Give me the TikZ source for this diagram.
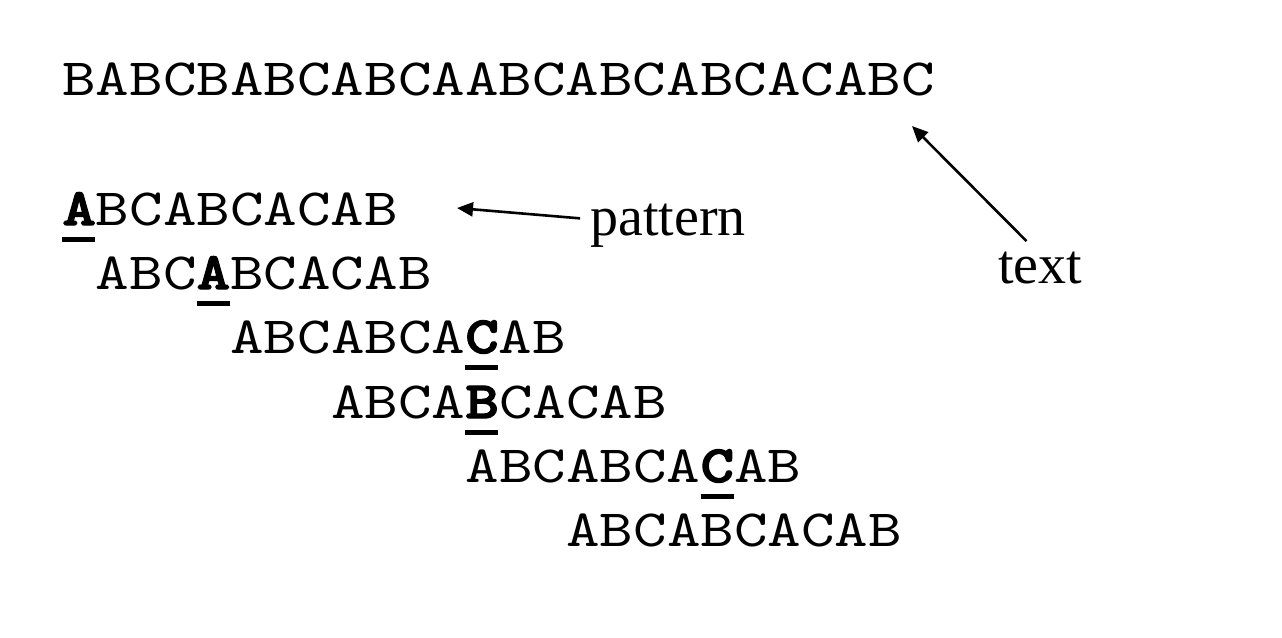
\documentclass[tikz,border=0pt]{standalone}
\usepackage{fontspec}
\setmainfont{Liberation Serif}
\newfontfamily\courier{lmmono10-regular.otf}[FakeStretch=1.22, BoldFont=lmmonolt10-bold.otf, BoldFeatures={FakeBold=2.5}]
\usetikzlibrary{arrows.meta}

% bold, underlined character where the comparison fails
\newcommand{\mismatch}[1]{\textbf{\makebox[0pt][l]{\rule[-8.5pt]{16.5pt}{2.5pt}}#1}}

\tikzset{
  seq/.style={anchor=base west, inner sep=0pt, font=\fontsize{26.2}{28}\selectfont\courier},
  lbl/.style={anchor=base west, inner sep=0pt, font=\fontsize{28}{28}\selectfont},
  ptr/.style={-{Triangle[length=8pt,width=7pt]}, line width=1.3pt},
}

\begin{document}
\begin{tikzpicture}[x=0.5pt, y=-0.5pt]
    \useasboundingbox (0,0) rectangle (1282,638);
    % text and the shifted copies of the pattern
    \node[seq] (txt) at (62,95) {BABCBABCABCAABCABCABCACABC};
    \node[seq] (p1) at (62,225) {\mismatch{A}BCABCACAB};
    \node[seq] (p2) at (62+1*33.6,289) {ABC\mismatch{A}BCACAB};
    \node[seq] (p3) at (62+5*33.6,353) {ABCABCA\mismatch{C}AB};
    \node[seq] (p4) at (62+8*33.6,418) {ABCA\mismatch{B}CACAB};
    \node[seq] (p5) at (62+12*33.6,482) {ABCABCA\mismatch{C}AB};
    \node[seq] (p6) at (62+15*33.6,546) {ABCABCACAB};
    % labels
    \node[lbl] (pat) at (590,235) {pattern};
    \node[lbl] (txtlbl) at (998,283) {text};
    \coordinate (pattip) at (457,208);
    \coordinate (txttip) at (912,126);
    \draw[ptr, shorten <=5pt] ([yshift=3pt]pat.west) -- (pattip);
    \draw[ptr, shorten <=7pt] ([xshift=-2pt]txtlbl.north) -- (txttip);
\end{tikzpicture}
\end{document}
